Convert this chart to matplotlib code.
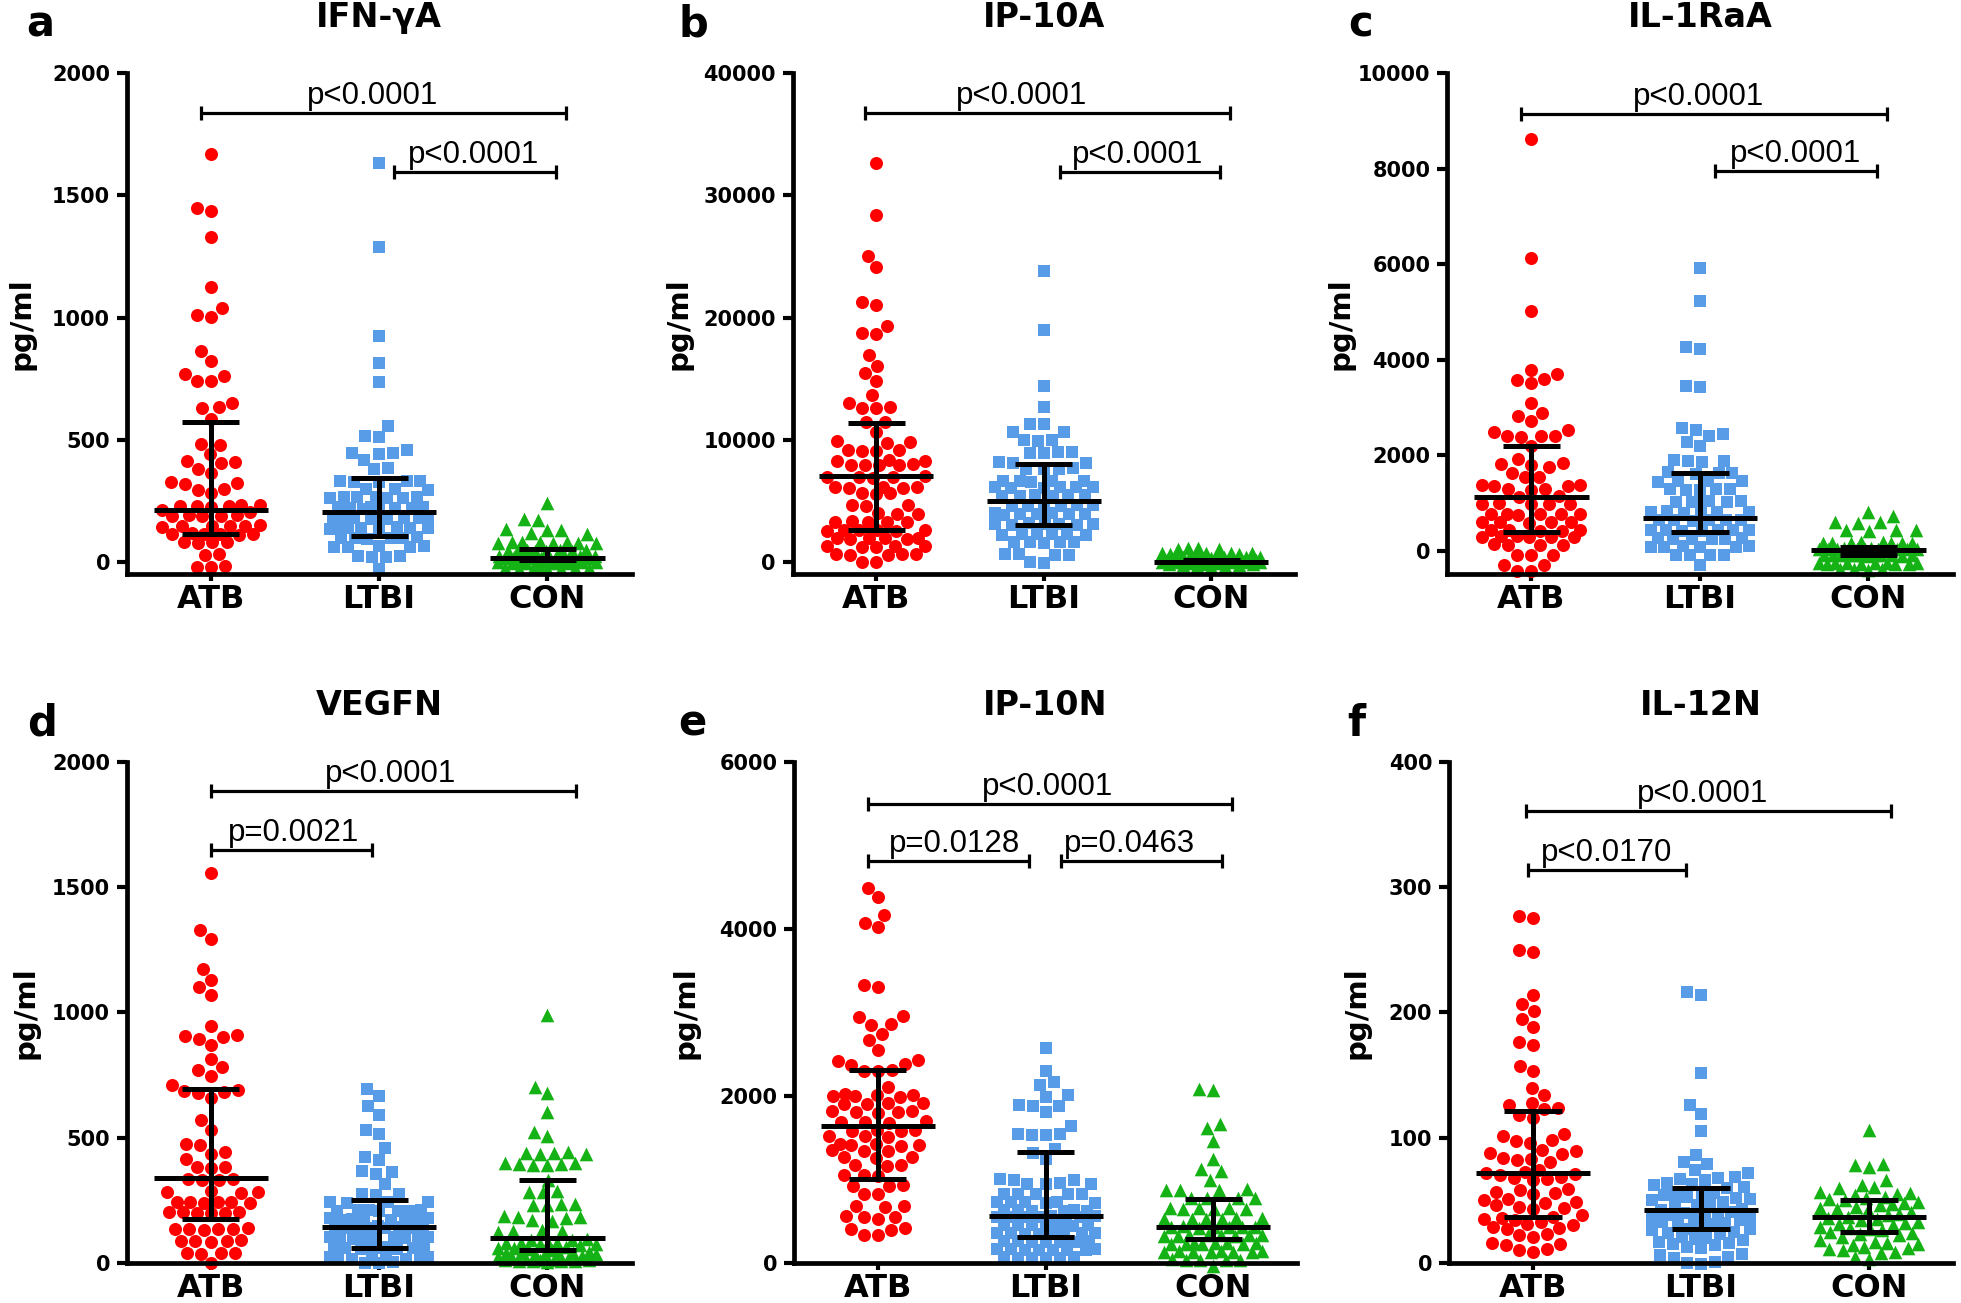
import numpy as np
import matplotlib.pyplot as plt

plt.rcParams['font.family'] = ['Liberation Sans', 'DejaVu Sans']
BOLD = ['DejaVu Sans']

groups = ["ATB", "LTBI", "CON"]

# ---- values (pg/ml) ----
ifng_atb = [1669, 1449, 1436, 1329, 1124, 1037, 1010, 1004, 861, 820, 768, 762, 742, 738,
            648, 633, 629, 586, 483, 479, 439, 414, 408, 404, 380, 364, 325, 322, 318, 299,
            295, 280, 233, 231, 229, 228, 226, 224, 210, 205, 192, 190, 188, 186, 185, 150,
            148, 147, 146, 145, 143, 117, 115, 114, 113, 112, 110, 82, 80, 79, 77, 32, 28,
            -18, -20, -22]
ifng_ltbi = [1633, 1290, 923, 815, 736, 556, 516, 512, 456, 447, 444, 441, 417, 382, 378,
             332, 331, 330, 328, 326, 299, 297, 295, 266, 265, 264, 263, 262, 261, 260, 224,
             223, 222, 221, 220, 219, 218, 217, 182, 181, 180, 179, 178, 177, 176, 175, 141,
             140, 139, 138, 137, 136, 135, 134, 99, 98, 97, 96, 95, 94, 64, 63, 62, 61, 60,
             23, 22, 21, 20, -28]
ifng_con = [239, 174, 170, 132, 130, 128, 116, 112, 82, 81, 80, 79, 78, 77, 76, 75, 49, 48,
            47, 46, 45, 44, 43, 42, 24, 23, 22, 21, 20, 19, 18, 17, 16, 15, 14, 13, 2, 1, 0,
            -1, -2, -2, -3, -3, -4, -4, -5, -6, -26, -26, -27, -27, -28, -28, -29, -30]

ip10a_atb = [32655, 28415, 25040, 24140, 21300, 21035, 19300, 18750, 18650, 16960, 16060,
             15460, 14790, 13620, 13020, 12680, 12620, 12560, 11480, 11420, 10620, 9850, 9780,
             9710, 9180, 9120, 9080, 9050, 8320, 8280, 8240, 7990, 7960, 7950, 7930, 7900,
             6990, 6960, 6945, 6920, 6900, 6140, 6110, 6090, 6060, 6030, 5640, 5610, 5580,
             4650, 4610, 4570, 3980, 3940, 3900, 3300, 3280, 3260, 3240, 3220, 2640, 2620,
             2600, 2580, 2560, 2540, 1980, 1960, 1940, 1920, 1900, 1880, 1300, 1280, 1260,
             1240, 1220, 620, 610, 600, 590, 580, 20, -20]
ip10a_ltbi = [23810, 18970, 14360, 12690, 11320, 11260, 10650, 10590, 9990, 9950, 9910, 8990,
              8960, 8940, 8910, 8140, 8110, 8080, 7650, 7620, 7600, 7570, 6650, 6630, 6610,
              6590, 6570, 6150, 6130, 6110, 6090, 6070, 6050, 5480, 5460, 5440, 5420, 5400,
              5380, 4650, 4630, 4610, 4590, 4570, 4550, 3980, 3960, 3940, 3920, 3900, 3880,
              3860, 3140, 3120, 3100, 3080, 3060, 3040, 3020, 2300, 2280, 2260, 2240, 2220,
              2200, 1640, 1620, 1600, 1580, 1560, 630, 610, 590, 570, -50, -90]
ip10a_con = [1120, 1100, 1080, 1060, 720, 700, 690, 680, 660, 650, 420, 410, 400, 390, 380,
             370, 360, 350, 340, 330, 170, 160, 150, 145, 140, 135, 130, 125, 120, 115, 110,
             105, 100, 95, 90, 20, 15, 10, 5, 0, -5, -10, -20, -40, -60, -90, -120, -150,
             -180, -210, -250, -280, -310, -350, -390]

il1ra_atb = [8630, 6127, 5013, 3796, 3700, 3590, 3575, 3513, 3085, 2896, 2828, 2725, 2528,
             2485, 2410, 2400, 2395, 2390, 2185, 1928, 1830, 1817, 1805, 1757, 1628, 1550,
             1535, 1380, 1375, 1365, 1360, 1290, 1285, 1280, 1140, 1125, 995, 990, 985, 980,
             975, 780, 775, 770, 765, 760, 755, 610, 605, 600, 595, 590, 435, 430, 425, 420,
             415, 305, 300, 298, 295, 290, 285, 135, 130, 125, 120, -80, -86, -92, -300, -305,
             -425, -430]
il1ra_ltbi = [5913, 5228, 4268, 4216, 3450, 3440, 2571, 2528, 2442, 2400, 2270, 2185, 1900,
              1890, 1880, 1870, 1640, 1630, 1625, 1615, 1470, 1460, 1455, 1450, 1300, 1290,
              1285, 1280, 1275, 1040, 1035, 1028, 1020, 1015, 825, 820, 814, 810, 805, 800,
              650, 645, 643, 640, 635, 630, 440, 435, 430, 428, 425, 420, 415, 265, 260, 257,
              255, 250, 245, 95, 90, 86, 85, 80, 75, -80, -86, -90, -95, -300]
il1ra_con = [814, 728, 610, 600, 590, 440, 430, 425, 420, 180, 175, 172, 170, 168, 165, 160,
             155, 50, 48, 46, 44, 43, 42, 40, 38, 36, 34, 32, 30, -80, -82, -84, -86, -88,
             -90, -92, -94, -96, -98, -100, -102, -250, -255, -257, -260, -262, -265, -270,
             -275, -280, -285, -380, -385, -390, -395]

vegf_atb = [1557, 1328, 1295, 1174, 1128, 1100, 1070, 947, 910, 905, 900, 895, 870, 816, 784,
            772, 748, 710, 690, 685, 682, 680, 660, 570, 530, 475, 470, 442, 436, 415, 385,
            382, 380, 336, 334, 332, 330, 287, 285, 283, 281, 245, 244, 243, 242, 241, 240,
            205, 204, 202, 201, 200, 199, 138, 137, 136, 135, 134, 133, 90, 88, 87, 86, 85,
            40, 39, 38, 37, 0]
vegf_ltbi = [693, 666, 628, 592, 530, 513, 459, 423, 410, 368, 364, 357, 316, 277, 275, 273,
             245, 244, 242, 241, 212, 211, 210, 209, 208, 207, 206, 179, 178, 177, 176, 175,
             174, 173, 172, 146, 145, 144, 143, 142, 141, 140, 139, 138, 105, 104, 103, 102,
             101, 100, 99, 98, 97, 64, 63, 62, 61, 60, 59, 58, 57, 56, 23, 22, 21, 20, 19, 18,
             17, 16, 2, 1, 0]
vegf_con = [989, 702, 677, 603, 521, 505, 442, 440, 438, 436, 434, 400, 398, 396, 394, 392,
            390, 333, 286, 284, 282, 236, 234, 232, 230, 187, 185, 183, 181, 170, 168, 130,
            128, 126, 124, 95, 92, 90, 81, 80, 79, 78, 77, 76, 70, 65, 60, 58, 56, 50, 45, 40,
            39, 38, 37, 36, 35, 34, 28, 25, 20, 15, 14, 13, 12, 11, 10, 9, 8, 7, 6, 5]

ip10n_atb = [4490, 4377, 4170, 4072, 4023, 3334, 3310, 2960, 2945, 2867, 2852, 2744, 2670,
             2547, 2430, 2418, 2380, 2370, 2310, 2300, 2295, 2105, 2020, 2012, 2006, 2000,
             1995, 1990, 1915, 1910, 1905, 1900, 1820, 1815, 1810, 1805, 1800, 1695, 1690,
             1685, 1680, 1595, 1590, 1585, 1580, 1520, 1515, 1510, 1425, 1420, 1416, 1410,
             1405, 1350, 1343, 1338, 1275, 1269, 1263, 1175, 1170, 1165, 1055, 1048, 1040,
             930, 925, 920, 830, 822, 685, 679, 673, 560, 556, 550, 531, 415, 408, 400, 338,
             330]
ip10n_ltbi = [2572, 2302, 2164, 2130, 2007, 1982, 1890, 1884, 1878, 1810, 1638, 1545, 1540,
              1538, 1535, 1367, 1318, 1244, 1005, 998, 990, 955, 950, 948, 945, 830, 828, 826,
              824, 822, 732, 730, 728, 726, 724, 722, 634, 632, 630, 628, 626, 624, 560, 558,
              556, 554, 552, 550, 548, 462, 460, 458, 456, 454, 452, 450, 448, 363, 361, 359,
              357, 355, 353, 351, 349, 265, 263, 261, 259, 257, 255, 253, 251, 166, 164, 162,
              160, 158, 156, 154, 152, 68, 66, 64, 62, 60, 58]
ip10n_con = [2085, 2075, 1662, 1613, 1466, 1244, 1121, 1097, 998, 880, 877, 875, 870, 780,
             778, 776, 774, 658, 656, 654, 652, 650, 648, 535, 533, 531, 529, 527, 525, 437,
             435, 433, 431, 429, 427, 425, 338, 336, 334, 332, 330, 328, 326, 324, 240, 238,
             236, 234, 232, 230, 228, 226, 142, 140, 138, 136, 134, 132, 130, 128, 43, 41, 39,
             37, 35, -30]

il12_atb = [277, 275, 250, 248, 214, 207, 201, 195, 188, 176, 174, 157, 153, 140, 134, 128,
            126, 124, 123, 118, 116, 103, 101, 98, 97, 96, 90, 89, 88, 87, 84, 83, 82, 81, 74,
            73, 72, 71, 70, 69, 68, 67, 66, 59, 58, 57, 56, 55, 51, 50, 49, 48, 46, 45, 44,
            43, 38, 37, 36, 35, 34, 33, 31, 30, 29, 28, 27, 23, 22, 21, 16, 15, 14, 11, 10, 9]
il12_ltbi = [216, 214, 152, 126, 119, 105, 86, 81, 79, 74, 72, 69, 68, 67, 66, 64, 63, 62, 61,
             60, 57, 56, 55, 54, 53, 52, 51, 50, 49, 48, 47, 46, 43, 42, 41, 40, 39, 38, 37,
             36, 36, 35, 34, 33, 32, 31, 30, 28, 27, 27, 26, 25, 24, 23, 21, 20, 19, 18, 17,
             16, 15, 14, 13, 12, 7, 6, 5, 4, 1, 0, -1]
il12_con = [106, 79, 78, 77, 66, 62, 61, 60, 57, 56, 55, 54, 53, 52, 51, 50, 49, 48, 47, 46,
            45, 44, 43, 42, 41, 39, 38, 37, 36, 35, 34, 33, 32, 31, 30, 29, 28, 27, 26, 25, 24,
            23, 22, 21, 18, 17, 16, 15, 14, 13, 12, 11, 10, 9, 8, 5, 3]

# median, Q1, Q3 bars per group (ATB, LTBI, CON)
ifng_med = [[210, 114, 573], [202, 105, 344], [17, 5, 52]]
ip10a_med = [[7012, 2604, 11386], [5009, 3005, 8047], [0, 0, 150]]
il1ra_med = [[1131, 403, 2202], [686, 386, 1628], [17, -86, 86]]
vegf_med = [[338, 177, 693], [144, 59, 251], [98, 51, 333]]
ip10n_med = [[1638, 1008, 2316], [566, 310, 1333], [433, 285, 762]]
il12_med = [[72, 37, 121], [42, 27, 60], [37, 25, 50]]

titles = ["IFN-\u03b3A", "IP-10A", "IL-1RaA", "VEGFN", "IP-10N", "IL-12N"]
letters = ["a", "b", "c", "d", "e", "f"]
yticks = [[0, 500, 1000, 1500, 2000], [0, 10000, 20000, 30000, 40000],
          [0, 2000, 4000, 6000, 8000, 10000], [0, 500, 1000, 1500, 2000],
          [0, 2000, 4000, 6000], [0, 100, 200, 300, 400]]
ylims = [(-52, 2000), (-1032, 40000), (-494, 10000), (0, 2000), (0, 6000), (0, 400)]

# comparisons: (x1, x2, y, label, text x)
brackets = [
    [(-0.06, 2.11, 1836, "p<0.0001", 0.96), (1.09, 2.05, 1596, "p<0.0001", 1.56)],
    [(-0.07, 2.11, 36730, "p<0.0001", 0.87), (1.10, 2.05, 31920, "p<0.0001", 1.56)],
    [(-0.06, 2.11, 9152, "p<0.0001", 0.99), (1.09, 2.05, 7952, "p<0.0001", 1.57)],
    [(0.0, 2.17, 1882, "p<0.0001", 1.07), (0.0, 0.96, 1649, "p=0.0021", 0.49)],
    [(-0.06, 2.11, 5498, "p<0.0001", 1.01), (-0.06, 0.90, 4810, "p=0.0128", 0.46),
     (1.09, 2.05, 4810, "p=0.0463", 1.50)],
    [(-0.04, 2.13, 361, "p<0.0001", 1.01), (-0.03, 0.91, 314, "p<0.0170", 0.44)],
]

panel_data = [
    (ifng_atb, ifng_ltbi, ifng_con, ifng_med),
    (ip10a_atb, ip10a_ltbi, ip10a_con, ip10a_med),
    (il1ra_atb, il1ra_ltbi, il1ra_con, il1ra_med),
    (vegf_atb, vegf_ltbi, vegf_con, vegf_med),
    (ip10n_atb, ip10n_ltbi, ip10n_con, ip10n_med),
    (il12_atb, il12_ltbi, il12_con, il12_med),
]

# layout (figure fractions) and label offsets (axes fractions)
rects = [(0.0646, 0.5592, 0.2575, 0.3845), (0.4042, 0.5592, 0.2561, 0.3845),
         (0.7380, 0.5592, 0.2577, 0.3845), (0.0646, 0.0307, 0.2575, 0.3846),
         (0.4049, 0.0307, 0.2565, 0.3846), (0.7389, 0.0307, 0.2570, 0.3846)]
letter_pos = [(-0.172, 1.0745), (-0.197, 1.0745), (-0.171, 1.0745),
              (-0.168, 1.052), (-0.202, 1.052), (-0.184, 1.052)]
ylabel_x = [-0.209, -0.228, -0.212, -0.201, -0.216, -0.183]

colors = ["#FF0000", "#589CE8", "#14B214"]
markers = ["o", "s", "^"]
msizes = [88, 74, 96]


def swarm_offsets(ax, values, diam=13.5, max_half=49.0):
    """ x offsets (data units) so that markers do not overlap, beeswarm style """
    vals = np.asarray(values, dtype=float)
    pts = np.column_stack([np.zeros_like(vals), vals])
    y_px = ax.transData.transform(pts)[:, 1]
    unit = ax.transData.transform((1, 0))[0] - ax.transData.transform((0, 0))[0]
    cand = np.arange(-max_half, max_half + 0.5, 1.0)
    cand = cand[np.argsort(np.abs(cand), kind="stable")]
    px, py = [], []
    off = np.zeros(len(vals))
    for i in np.argsort(y_px, kind="stable"):
        y = y_px[i]
        if px:
            dist = np.hypot(cand[:, None] - np.array(px)[None, :],
                            y - np.array(py)[None, :]).min(axis=1)
            ok = np.nonzero(dist >= diam)[0]
            k = ok[0] if len(ok) else int(np.argmax(dist))
        else:
            k = 0
        off[i] = cand[k]
        px.append(cand[k])
        py.append(y)
    return off / unit


def px_to_data_y(ax, px):
    return px / (ax.transData.transform((0, 1))[1] - ax.transData.transform((0, 0))[1])


def draw_bracket(ax, x1, x2, y, text, xt):
    h = px_to_data_y(ax, 7)
    kw = dict(color="black", lw=2.3, clip_on=False, solid_capstyle="butt")
    ax.plot([x1, x2], [y, y], **kw)
    ax.plot([x1, x1], [y - h, y + h], **kw)
    ax.plot([x2, x2], [y - h, y + h], **kw)
    ax.annotate(text, xy=(xt, y), xytext=(0, 6.5), textcoords="offset points",
                ha="center", va="baseline", fontsize=22.5, annotation_clip=False)


fig = plt.figure(figsize=(19.61, 13.03), dpi=100)

for p in range(6):
    ax = fig.add_axes(rects[p])
    ax.set_xlim(-0.5, 2.5)
    ax.set_ylim(*ylims[p])
    for s in ["top", "right"]:
        ax.spines[s].set_visible(False)
    for s in ["left", "bottom"]:
        ax.spines[s].set_linewidth(3.4)

    atb, ltbi, con, med = panel_data[p]
    for g, vals in enumerate([atb, ltbi, con]):
        off = swarm_offsets(ax, vals)
        ax.scatter(g + off, vals, s=msizes[g], marker=markers[g], color=colors[g],
                   linewidths=0, clip_on=False, zorder=2)
        m, q1, q3 = med[g]
        bk = dict(color="black", lw=3.6, zorder=3, solid_capstyle="butt")
        ax.plot([g - 0.34, g + 0.34], [m, m], **bk)
        ax.plot([g - 0.17, g + 0.17], [q1, q1], **bk)
        ax.plot([g - 0.17, g + 0.17], [q3, q3], **bk)
        ax.plot([g, g], [q1, q3], **bk)

    for b in brackets[p]:
        draw_bracket(ax, *b)

    ax.set_xticks([0, 1, 2])
    ax.set_xticklabels(groups, fontweight="bold", fontsize=23, family=BOLD)
    ax.set_yticks(yticks[p])
    ax.set_yticklabels([str(t) for t in yticks[p]], fontweight="bold", fontsize=15,
                       family=BOLD)
    ax.tick_params(axis="x", length=5, width=3, pad=2)
    ax.tick_params(axis="y", length=7, width=3, pad=5)

    ax.text(0.5, 1.112, titles[p], transform=ax.transAxes, ha="center", va="center",
            fontsize=24, fontweight="bold", family=BOLD)
    lx, ly = letter_pos[p]
    ax.text(lx, ly, letters[p], transform=ax.transAxes, ha="center", va="baseline",
            fontsize=30, fontweight="bold", family=BOLD)
    ax.text(ylabel_x[p], 0.5, "pg/ml", transform=ax.transAxes, rotation=90,
            ha="center", va="center", fontsize=21, fontweight="bold", family=BOLD)

fig.savefig("out.png", dpi=100)
